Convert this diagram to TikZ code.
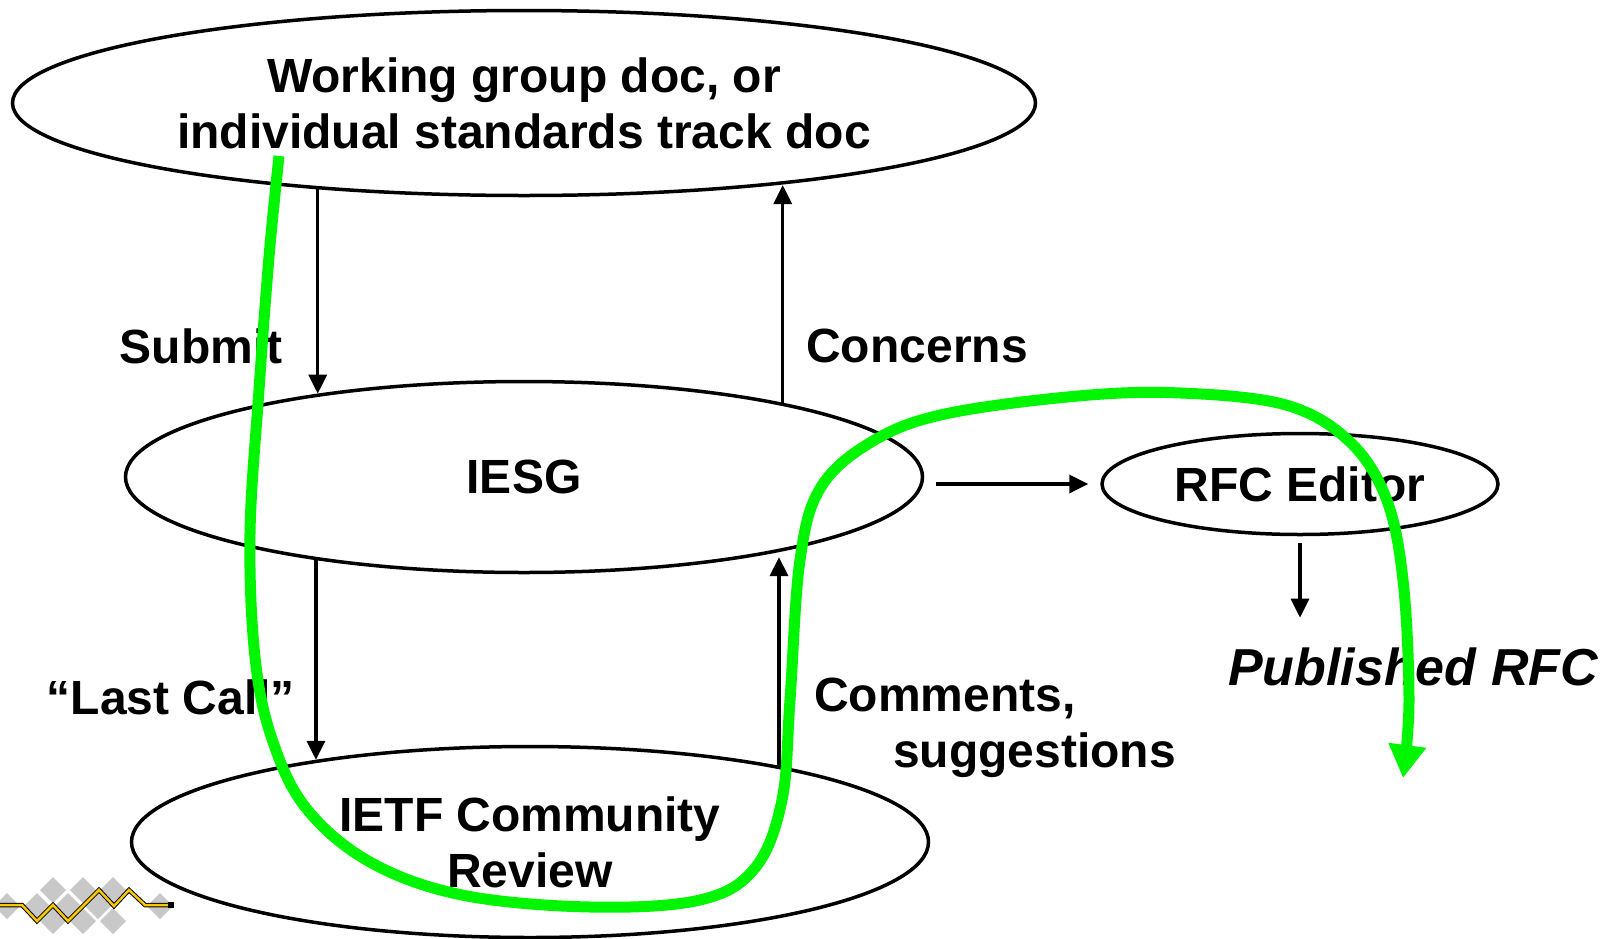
\documentclass[tikz,border=0pt]{standalone}
\usepackage{fontspec}
\setmainfont{Liberation Sans}
\usetikzlibrary{shapes.geometric,arrows.meta,positioning}

\definecolor{routegreen}{RGB}{0,245,0}
\definecolor{logogray}{RGB}{200,200,200}
\definecolor{logoyellow}{RGB}{250,200,0}

\begin{document}
\begin{tikzpicture}[
  x=1pt, y=-1pt,
  every node/.style = {font=\fontsize{48}{56}\selectfont\bfseries, align=center, inner sep=0pt},
  stage/.style = {ellipse, draw, line width=3.5pt},
  flow/.style = {-{Triangle[length=19pt,width=18pt]}, line width=3.5pt},
  route/.style = {line width=11pt, routegreen, -{Triangle[length=33pt,width=36pt]}}
  ]
  \useasboundingbox (0,0) rectangle (1610,938);

  \node[stage, minimum width=1023pt, minimum height=185pt] (wg) at (524,103)
    {Working group doc, or\\individual standards track doc};
  \node[stage, minimum width=797pt, minimum height=191pt] (iesg) at (524,477) {IESG};
  \node[stage, minimum width=797pt, minimum height=191pt] (ietf) at (530,842)
    {IETF Community\\Review};
  \node[stage, minimum width=396pt, minimum height=101pt] (rfc) at (1300,484) {RFC Editor};
  \node[font=\fontsize{52}{60}\selectfont\bfseries\itshape] (pub) at (1413,667) {Published RFC};

  \node (submit) at (201,346) {Submit};
  \node (concerns) at (917,346) {Concerns};
  \node (lastcall) at (171,697) {“Last Call”};
  \node[align=left, anchor=west] (comments) at (814,728)
    {Comments,\\\hspace*{79pt}suggestions};

  \draw[flow] (iesg.158.9 |- wg.201.9) -- (iesg.158.9);
  \draw[flow] (iesg.16.0) -- (iesg.16.0 |- wg.342.5);
  \draw[flow] (ietf.159.3 |- iesg.201.1) -- (ietf.159.3);
  \draw[flow, shorten >=4pt] (ietf.17.5) -- (ietf.17.5 |- iesg.343.8);
  \draw[flow, shorten <=12pt, shorten >=12pt] (rfc.west -| iesg.east) -- (rfc.west);
  \draw[flow, shorten <=7pt, shorten >=30pt] (rfc.south) -- (rfc.south |- pub.north);

  \coordinate (gstart) at (279,156);
  \coordinate (gend) at (1403,778);
  \draw[route] plot[smooth, tension=0.6] coordinates {(gstart) (269,257) (259,390)
    (250,534) (255,657) (272,739) (306,808) (370,862) (462,895) (590,907) (700,900)
    (755,868) (782,800) (790,700) (800,560) (821,487) (873,441) (945,414) (1078,396)
    (1181,393) (1286,405) (1349,441) (1386,498) (1403,580) (1409,700) (gend)};

  \foreach \dx/\dy in {7/906, 37/906, 53/890, 68/906, 83/890, 98/906, 113/890,
      53/921, 83/921, 113/921, 160/906}
    \fill[logogray] (\dx,\dy) +(-13,0) -- +(0,13) -- +(13,0) -- +(0,-13) -- cycle;
  \draw[line width=4.5pt, line join=miter] (0,905) -- (22,905) -- (37,921) -- (53,905)
    -- (68,921) -- (99,890) -- (114,906) -- (129,890) -- (145,905) -- (170,905);
  \draw[line width=2.5pt, logoyellow] (0,905) -- (22,905) -- (37,921) -- (53,905)
    -- (68,921) -- (99,890) -- (114,906) -- (129,890) -- (145,905) -- (170,905);
  \fill (168,902) rectangle (174,908);
\end{tikzpicture}
\end{document}
